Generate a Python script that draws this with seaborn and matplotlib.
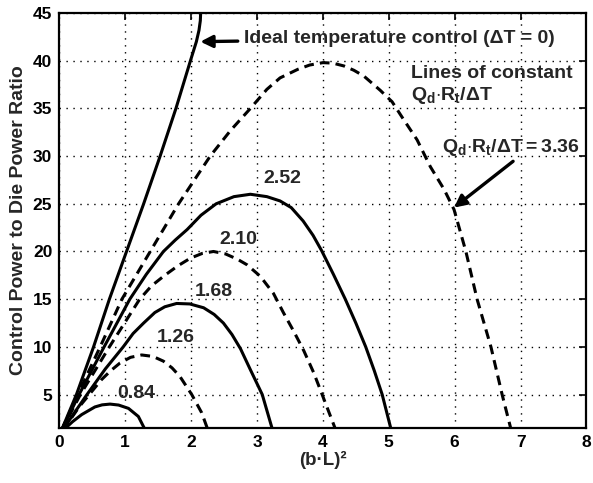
import matplotlib
matplotlib.use("Agg")
import matplotlib.pyplot as plt
import seaborn as sns
import pandas as pd

# ---- data ----
ideal_x = [0.03, 0.26, 0.52, 0.76, 1.02, 1.28, 1.53, 1.77, 1.99, 2.08, 2.12, 2.14, 2.145]
ideal_y = [1.2, 5, 10, 15, 20, 25, 30, 35, 40, 42.0, 43.2, 44.2, 45]

q336_x = [0.03, 0.28, 0.62, 0.95, 1.38, 1.81, 2.29, 2.6, 2.9, 3.15, 3.35, 3.62, 3.8, 4.0, 4.15,
          4.32, 4.47, 4.62, 4.87, 5.05, 5.2, 5.43, 5.63, 5.84, 5.99, 6.17, 6.34, 6.55, 6.72, 6.86]
q336_y = [1.2, 5, 10, 15, 20, 25, 30, 32.7, 35, 37.0, 38.2, 39.1, 39.55, 39.8, 39.75,
          39.45, 39.0, 38.4, 36.9, 35.7, 34.1, 31.7, 28.9, 26.5, 24.4, 20, 15, 10, 5, 1.2]

q252_x = [0.03, 0.3, 0.68, 1.07, 1.32, 1.58, 1.76, 1.94, 2.15, 2.38, 2.65, 2.9, 3.15, 3.35,
          3.52, 3.7, 3.85, 3.98, 4.16, 4.34, 4.5, 4.65, 4.78, 4.9, 5.04]
q252_y = [1.2, 5, 10, 15, 17.6, 20, 21.2, 22.3, 23.8, 25, 25.75, 26.0, 25.75, 25.3,
          24.6, 23.2, 21.7, 20.1, 17.6, 15, 12.5, 10, 7.5, 5, 1.2]

q210_x = [0.03, 0.32, 0.76, 1.22, 1.4, 1.6, 1.8, 1.99, 2.17, 2.34, 2.52, 2.7, 2.85, 3.05,
          3.25, 3.4, 3.56, 3.71, 3.86, 4.0, 4.2]
q210_y = [1.2, 5, 10, 15, 16.4, 17.5, 18.5, 19.3, 19.8, 20, 19.75, 19.2, 18.6, 17.4,
          15.6, 13.6, 11.6, 9.6, 7.3, 4.8, 1.2]

q168_x = [0.04, 0.42, 0.7, 0.97, 1.12, 1.28, 1.45, 1.6, 1.78, 1.98, 2.19, 2.35, 2.49,
          2.62, 2.75, 2.9, 3.08, 3.24]
q168_y = [1.2, 5, 7.7, 10, 11.4, 12.5, 13.6, 14.2, 14.55, 14.5, 14.1, 13.4, 12.5,
          11.3, 9.8, 7.6, 5, 1.2]

q126_x = [0.05, 0.3, 0.64, 0.78, 0.92, 1.08, 1.25, 1.42, 1.58, 1.71, 1.83, 2.01, 2.16, 2.26]
q126_y = [1.2, 3.7, 6.56, 7.5, 8.3, 8.9, 9.15, 9.0, 8.5, 7.8, 6.9, 5, 3.1, 1.2]

q084_x = [0.05, 0.2, 0.34, 0.54, 0.65, 0.77, 0.9, 1.05, 1.2, 1.31]
q084_y = [1.2, 2.15, 2.9, 3.7, 3.92, 4.0, 3.9, 3.55, 2.7, 1.2]

curve_labels = ["0.84", "1.26", "1.68", "2.10", "2.52"]
label_x = [1.17, 1.76, 2.34, 2.72, 3.38]
label_y = [5.1, 10.96, 15.8, 21.3, 27.7]

x_ticks = [0, 1, 2, 3, 4, 5, 6, 7, 8]
y_ticks = [5, 10, 15, 20, 25, 30, 35, 40, 45]

# ---- style ----
sns.set_style("white")
plt.rcParams["font.family"] = ["Liberation Sans", "DejaVu Sans"]
plt.rcParams["font.weight"] = "bold"
plt.rcParams["mathtext.fontset"] = "custom"
plt.rcParams["mathtext.rm"] = "Liberation Sans:bold"
plt.rcParams["mathtext.it"] = "Liberation Sans:bold"
plt.rcParams["mathtext.bf"] = "Liberation Sans:bold"

fig = plt.figure(figsize=(5.93, 4.83), dpi=100)
ax = fig.add_axes([0.1, 0.114, 0.889, 0.859])

solid = (0, ())
dashed = (0, (3.2, 2.0))
curves = [
    (ideal_x, ideal_y, solid),
    (q336_x, q336_y, dashed),
    (q252_x, q252_y, solid),
    (q210_x, q210_y, dashed),
    (q168_x, q168_y, solid),
    (q126_x, q126_y, dashed),
    (q084_x, q084_y, solid),
]
for cx, cy, ls in curves:
    df = pd.DataFrame({"x": cx, "y": cy})
    sns.lineplot(data=df, x="x", y="y", sort=False, estimator=None, ax=ax,
                 color="black", linewidth=2.2, linestyle=ls, zorder=3)

ax.set_xlim(0, 8)
ax.set_ylim(1.5, 45)
ax.set_xticks(x_ticks)
ax.set_yticks(y_ticks)
ax.tick_params(direction="in", length=5, width=1.2, top=True, right=True,
               labelsize=12.5, pad=5, colors="black")
for lab in ax.get_xticklabels() + ax.get_yticklabels():
    lab.set_fontweight("bold")
ax.grid(True, color="black", linestyle=(0, (1, 4)), linewidth=1.0, zorder=1)
for sp in ax.spines.values():
    sp.set_linewidth(1.6)
    sp.set_color("black")

ax.set_xlabel("(b·L)²", fontsize=13.5, fontweight="bold", labelpad=1)
ax.set_ylabel("Control Power to Die Power Ratio", fontsize=14, fontweight="bold", labelpad=4)

for t, lx, ly in zip(curve_labels, label_x, label_y):
    ax.text(lx, ly, t, ha="center", va="center", fontsize=14, fontweight="bold", zorder=4)

ax.annotate("Ideal temperature control (ΔT = 0)", xy=(2.14, 42.0), xytext=(2.8, 42.3),
            ha="left", va="center", fontsize=14, fontweight="bold",
            arrowprops=dict(arrowstyle="-|>", color="black", lw=2.4, mutation_scale=18,
                            shrinkA=2, shrinkB=0))
ax.text(5.33, 38.7, "Lines of constant", ha="left", va="center", fontsize=14, fontweight="bold")
ax.text(5.33, 36.4, r"$\mathbf{Q_d{\cdot}R_t/ΔT}$", ha="left", va="center", fontsize=14)
ax.annotate(r"$\mathbf{Q_d{\cdot}R_t/ΔT = 3.36}$", xy=(5.99, 24.6), xytext=(5.8, 30.9),
            ha="left", va="center", fontsize=14,
            arrowprops=dict(arrowstyle="-|>", color="black", lw=2.4, mutation_scale=18,
                            shrinkA=0, shrinkB=0, relpos=(0.55, 0.0)))

fig.savefig("out.png", dpi=100)
